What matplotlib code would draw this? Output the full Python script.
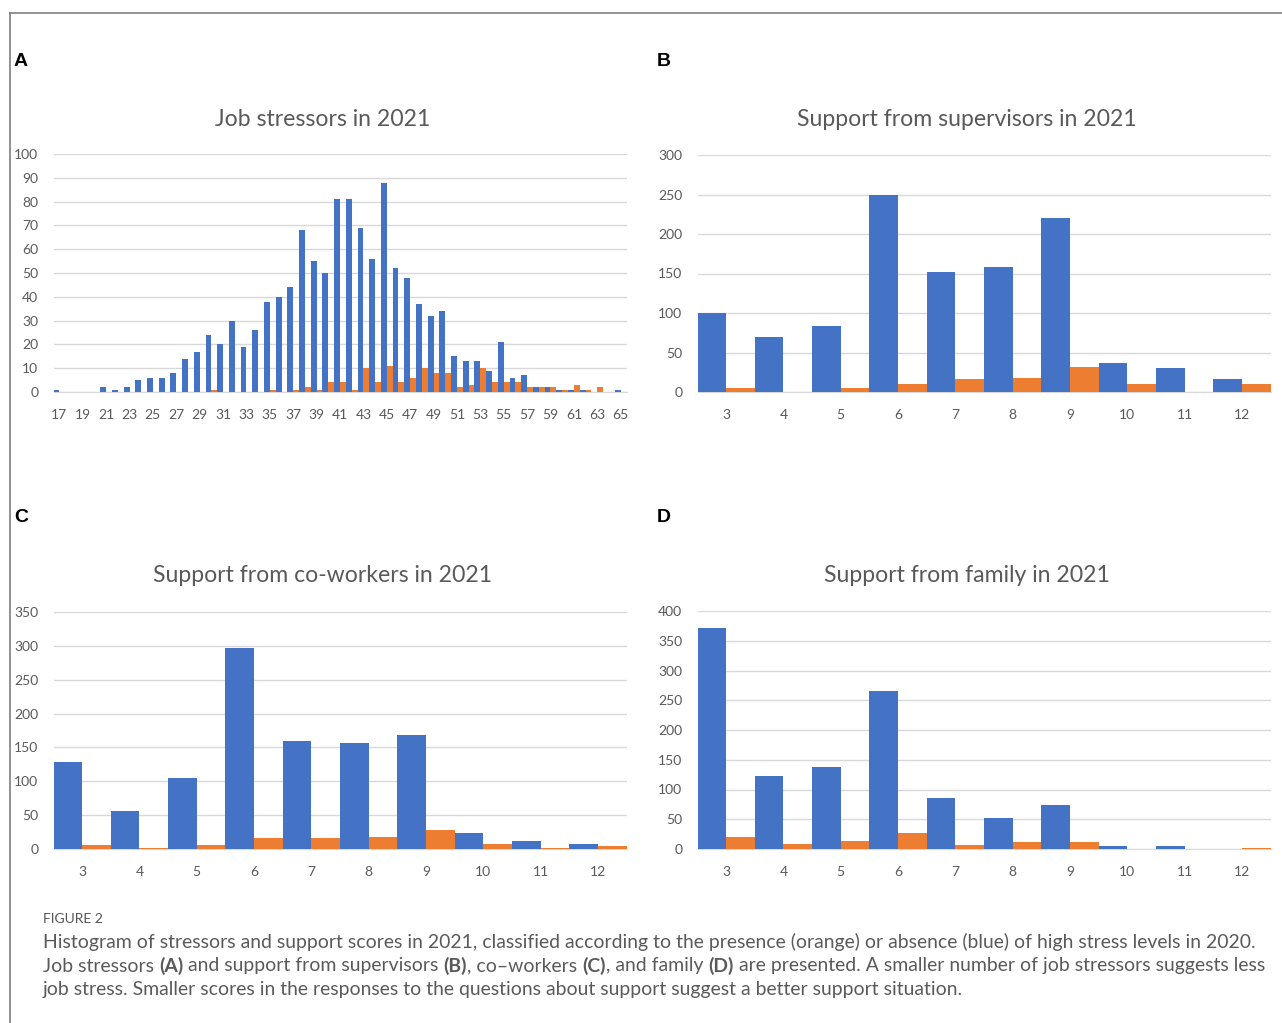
"""Figure 2: histograms of job stressors and support scores in 2021.

Blue = absence of high stress in 2020, orange = presence of high stress in 2020.
"""

import matplotlib
matplotlib.use("Agg")
import matplotlib.pyplot as plt
from matplotlib.lines import Line2D
import numpy as np

W, H = 1282, 1023
BLUE = "#4472C4"
ORANGE = "#ED7D31"
GRID = "#D9D9D9"
TICK = "#595959"
TITLE = "#595959"

plt.rcParams["font.family"] = ["Lato", "DejaVu Sans"]

# --- data -------------------------------------------------------------
stress_scores = list(range(17, 66))
stress_blue = [1, 0, 0, 0, 2, 1, 2, 5, 6, 6, 8, 14, 17, 24, 20, 30, 19, 26,
               38, 40, 44, 68, 55, 50, 81, 81, 69, 56, 88, 52, 48, 37, 32, 34,
               15, 13, 13, 9, 21, 6, 7, 2, 2, 1, 1, 1, 0, 0, 1]
stress_orange = [0, 0, 0, 0, 0, 0, 0, 0, 0, 0, 0, 0, 0, 1, 0, 0, 0, 0,
                 1, 0, 1, 2, 1, 4, 4, 1, 10, 4, 11, 4, 6, 10, 8, 8,
                 2, 3, 10, 4, 4, 4, 2, 2, 2, 1, 3, 1, 2, 0, 0]

support_scores = list(range(3, 13))
supervisor_blue = [100, 69, 83, 250, 152, 158, 220, 37, 30, 17]
supervisor_orange = [5, 0, 5, 10, 16, 18, 32, 10, 0, 10]
coworker_blue = [129, 56, 105, 297, 160, 157, 169, 24, 12, 7]
coworker_orange = [6, 2, 6, 16, 16, 18, 28, 8, 2, 4]
family_blue = [371, 122, 138, 265, 86, 52, 74, 5, 5, 0]
family_orange = [20, 9, 14, 27, 6, 11, 11, 0, 0, 2]

panels = [
    # letter, title, categories, blue, orange, ymax, ystep, label every
    ("A", "Job stressors in 2021", stress_scores, stress_blue, stress_orange, 100, 10, 2),
    ("B", "Support from supervisors in 2021", support_scores, supervisor_blue, supervisor_orange, 300, 50, 1),
    ("C", "Support from co-workers in 2021", support_scores, coworker_blue, coworker_orange, 350, 50, 1),
    ("D", "Support from family in 2021", support_scores, family_blue, family_orange, 400, 50, 1),
]

# pixel boxes (left, right, top, bottom) of each plot area
boxes = [(53.5, 626.5, 154, 392), (697.5, 1270.5, 155, 392),
         (53.5, 626.5, 612, 849), (697.5, 1270.5, 611, 849)]
letter_pos = [(14, 61), (657, 61), (14, 517), (657, 517)]
title_y = [119, 119, 576, 576]


def px_axes(fig, left, right, top, bottom):
    return fig.add_axes([left / W, 1 - bottom / H, (right - left) / W, (bottom - top) / H])


def draw_panel(fig, box, spec):
    letter, title, cats, blue, orange, ymax, ystep, every = spec
    ax = px_axes(fig, *box)
    x = np.arange(len(cats))
    ax.bar(x - 0.25, blue, width=0.5, color=BLUE, zorder=3)
    ax.bar(x + 0.25, orange, width=0.5, color=ORANGE, zorder=3)
    ax.set_xlim(-0.5, len(cats) - 0.5)
    ax.set_ylim(0, ymax)
    ax.set_yticks(np.arange(0, ymax + 1, ystep))
    ax.set_xticks(x[::every])
    ax.set_xticklabels([str(c) for c in cats[::every]])
    ax.yaxis.grid(True, color=GRID, lw=1, zorder=0)
    for side in ("top", "right", "left"):
        ax.spines[side].set_visible(False)
    ax.spines["bottom"].set_color(GRID)
    ax.tick_params(length=0, colors=TICK, labelsize=10)
    ax.tick_params(axis="x", pad=12)
    ax.tick_params(axis="y", pad=11)
    return ax


fig = plt.figure(figsize=(W / 100, H / 100), dpi=100)

for box, spec, lp, ty in zip(boxes, panels, letter_pos, title_y):
    draw_panel(fig, box, spec)
    fig.text(lp[0] / W, 1 - lp[1] / H, spec[0], fontsize=14, fontweight="bold",
             family="Liberation Sans", va="center", ha="left")
    cx = (box[0] + box[1]) / 2 - 17
    fig.text(cx / W, 1 - ty / H, spec[1], fontsize=16.6, color=TITLE,
             ha="center", va="center")

# frame lines (top and left edge)
fig.add_artist(Line2D([10 / W, 1], [1 - 12.5 / H] * 2, color="#7F7F7F", lw=1.2))
fig.add_artist(Line2D([10 / W] * 2, [0, 1 - 12.5 / H], color="#7F7F7F", lw=1.2))

# caption
fig.text(43 / W, 1 - 919 / H, "FIGURE 2", fontsize=10, color="#555555", va="center")

caption = [
    [("Histogram of stressors and support scores in 2021, classified according to the "
      "presence (orange) or absence (blue) of high stress levels in 2020.", False)],
    [("Job stressors ", False), ("(A)", True), (" and support from supervisors ", False),
     ("(B)", True), (", co\u2013workers ", False), ("(C)", True), (", and family ", False),
     ("(D)", True), (" are presented. A smaller number of job stressors suggests less", False)],
    [("job stress. Smaller scores in the responses to the questions about support "
      "suggest a better support situation.", False)],
]
line_y = [942, 966, 990]
renderer = fig.canvas.get_renderer()
cap_size = 13.95
for runs, ly in zip(caption, line_y):
    x = 43.0
    for txt, bold in runs:
        t = fig.text(x / W, 1 - ly / H, txt, fontsize=cap_size, color="#5A5A5A",
                     fontweight="bold" if bold else "normal", va="center", ha="left")
        x += t.get_window_extent(renderer).width

fig.savefig("out.png", dpi=100)
plt.close(fig)
